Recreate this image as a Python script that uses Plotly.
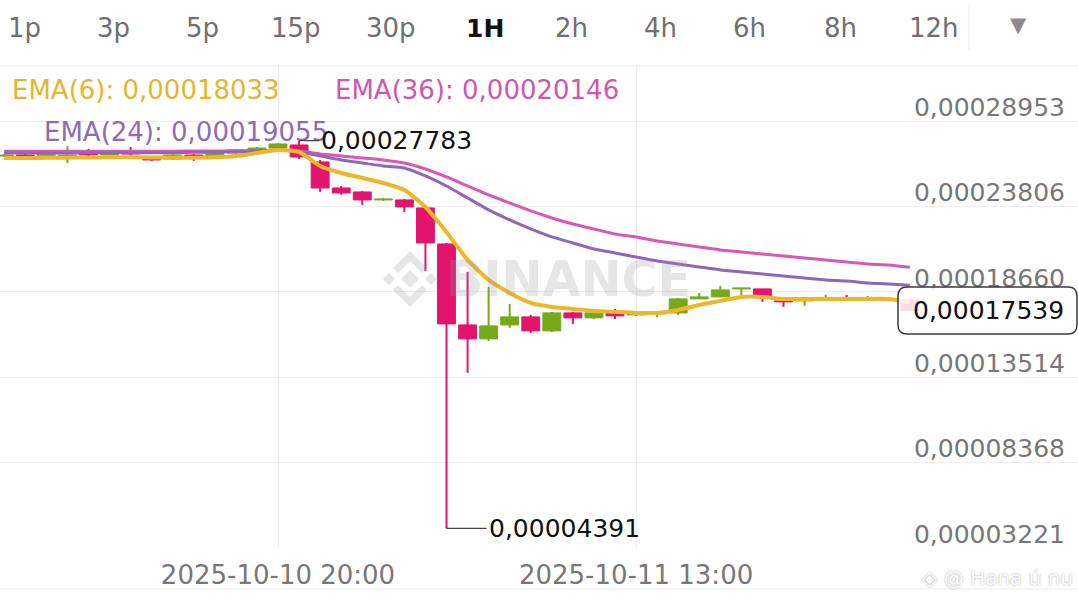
import pandas as pd
import plotly.graph_objects as go

W, H = 1078, 604
TOP, BOTTOM = 66, 548  # plot area edges (px)

# ---- data (1H candles, BINANCE style) ----
start = "2025-10-10 07:00"

opens = [0.00026860, 0.00026920, 0.00026880, 0.00026740, 0.00027100, 0.00026920, 0.00027160,
         0.00026800, 0.00026680, 0.00026920, 0.00026800, 0.00027040, 0.00027220, 0.00027340,
         0.00027525, 0.00026500, 0.00024930, 0.00024690, 0.00024208, 0.00024208, 0.00023725,
         0.00021554, 0.00016669, 0.00015825, 0.00016669, 0.00017152, 0.00016308, 0.00017393,
         0.00017092, 0.00017393, 0.00017273, 0.00017333, 0.00017393, 0.00018237, 0.00018358,
         0.00018840, 0.00018840, 0.00018117, 0.00018117, 0.00018177, 0.00018237, 0.00018177,
         0.00018237, 0.00018177]
highs = [0.00026980, 0.00027000, 0.00027010, 0.00027460, 0.00027280, 0.00027060, 0.00027400,
         0.00026860, 0.00026980, 0.00026980, 0.00027100, 0.00027280, 0.00027400, 0.00027645,
         0.00027783, 0.00026620, 0.00025050, 0.00024750, 0.00024328, 0.00024268, 0.00023846,
         0.00021615, 0.00019866, 0.00018961, 0.00017936, 0.00017273, 0.00017453, 0.00017453,
         0.00017453, 0.00017634, 0.00017514, 0.00017453, 0.00018298, 0.00018599, 0.00019021,
         0.00018901, 0.00018840, 0.00018117, 0.00018237, 0.00018479, 0.00018479, 0.00018418,
         0.00018358, 0.00018237]
lows = [0.00026800, 0.00026850, 0.00026830, 0.00026440, 0.00026860, 0.00026880, 0.00026920,
        0.00026560, 0.00026620, 0.00026560, 0.00026760, 0.00027000, 0.00027160, 0.00027280,
        0.00026680, 0.00024690, 0.00024510, 0.00023906, 0.00024147, 0.00023484, 0.00019926,
        0.00004391, 0.00013775, 0.00015704, 0.00016488, 0.00016187, 0.00016247, 0.00016730,
        0.00017031, 0.00017031, 0.00017212, 0.00017152, 0.00017273, 0.00018237, 0.00018358,
        0.00018358, 0.00018057, 0.00017755, 0.00017815, 0.00018177, 0.00018117, 0.00018177,
        0.00018117, 0.00017500]
closes = [0.00026920, 0.00026880, 0.00026960, 0.00026920, 0.00026920, 0.00027000, 0.00026980,
          0.00026620, 0.00026920, 0.00026800, 0.00027040, 0.00027220, 0.00027340, 0.00027585,
          0.00026800, 0.00024930, 0.00024630, 0.00024208, 0.00024268, 0.00023786, 0.00021615,
          0.00016730, 0.00015825, 0.00016609, 0.00017152, 0.00016308, 0.00017393, 0.00017092,
          0.00017393, 0.00017212, 0.00017453, 0.00017393, 0.00018237, 0.00018358, 0.00018780,
          0.00018901, 0.00018358, 0.00018057, 0.00018177, 0.00018237, 0.00018177, 0.00018237,
          0.00018177, 0.00017539]

ema6 = [0.00026740, 0.00026740, 0.00026750, 0.00026760, 0.00026770, 0.00026780, 0.00026790,
        0.00026770, 0.00026760, 0.00026760, 0.00026780, 0.00026860, 0.00027040, 0.00027220,
        0.00027100, 0.00026258, 0.00025836, 0.00025534, 0.00025233, 0.00024811, 0.00023785,
        0.00022278, 0.00020589, 0.00019383, 0.00018599, 0.00017996, 0.00017755, 0.00017634,
        0.00017514, 0.00017453, 0.00017393, 0.00017393, 0.00017574, 0.00017875, 0.00018117,
        0.00018358, 0.00018358, 0.00018237, 0.00018237, 0.00018237, 0.00018237, 0.00018237,
        0.00018237, 0.00018033]
ema24 = [0.00027040, 0.00027040, 0.00027040, 0.00027045, 0.00027050, 0.00027050, 0.00027060,
         0.00027060, 0.00027060, 0.00027080, 0.00027100, 0.00027110, 0.00027160, 0.00027220,
         0.00027100, 0.00026861, 0.00026620, 0.00026439, 0.00026258, 0.00026137, 0.00025655,
         0.00025052, 0.00024328, 0.00023605, 0.00023001, 0.00022459, 0.00021976, 0.00021614,
         0.00021253, 0.00021011, 0.00020770, 0.00020529, 0.00020348, 0.00020167, 0.00019986,
         0.00019865, 0.00019745, 0.00019624, 0.00019504, 0.00019383, 0.00019323, 0.00019202,
         0.00019142, 0.00019055]
ema36 = [0.00027140, 0.00027140, 0.00027140, 0.00027140, 0.00027150, 0.00027150, 0.00027150,
         0.00027150, 0.00027150, 0.00027160, 0.00027160, 0.00027170, 0.00027180, 0.00027200,
         0.00027160, 0.00026982, 0.00026861, 0.00026741, 0.00026620, 0.00026439, 0.00026077,
         0.00025595, 0.00025052, 0.00024509, 0.00024027, 0.00023544, 0.00023122, 0.00022760,
         0.00022459, 0.00022157, 0.00021976, 0.00021735, 0.00021554, 0.00021373, 0.00021192,
         0.00021072, 0.00020951, 0.00020830, 0.00020710, 0.00020589, 0.00020469, 0.00020348,
         0.00020288, 0.00020146]

x_ticks = ["2025-10-10 20:00", "2025-10-11 13:00"]
y_ticks = [0.00003221, 0.00008368, 0.00013514, 0.00018660, 0.00023806, 0.00028953]
y_range = [0.00003210, 0.00032289]
x_range = ["2025-10-10 06:48", "2025-10-12 09:59"]

tabs = ["1p", "3p", "5p", "15p", "30p", "1H", "2h", "4h", "6h", "8h", "12h"]
active_tab = "1H"

times = pd.date_range(start, periods=len(opens), freq="h")

GREEN = "#76a91a"
PINK = "#e3146e"
C_EMA6 = "#f0b62a"
C_EMA24 = "#8e67bc"
C_EMA36 = "#db57b7"
FONT = "DejaVu Sans"


def fmt(v):
    return f"{v:.8f}".replace(".", ",")


def pp(x, y):
    # pixel -> paper coords
    return x / W, (BOTTOM - y) / (BOTTOM - TOP)


def path_px(cmds):
    out = []
    for c in cmds:
        if isinstance(c, str):
            out.append(c)
        else:
            px_, py_ = pp(*c)
            out.append(f"{px_:.5f},{py_:.5f}")
    return " ".join(out)


fig = go.Figure()

# candle bodies
colors = [GREEN if c >= o else PINK for o, c in zip(opens, closes)]
fig.add_trace(go.Bar(
    x=times, base=[min(o, c) for o, c in zip(opens, closes)],
    y=[abs(c - o) for o, c in zip(opens, closes)],
    width=0.85 * 3600 * 1000,
    marker=dict(color=colors, line=dict(color=colors, width=1)),
    hoverinfo="skip",
))

# wicks
for col in (GREEN, PINK):
    wx, wy = [], []
    for t, h, l, c in zip(times, highs, lows, colors):
        if c == col:
            wx += [t, t, None]
            wy += [l, h, None]
    fig.add_trace(go.Scatter(x=wx, y=wy, mode="lines", line=dict(color=col, width=2),
                             hoverinfo="skip"))

# EMA lines
for vals, col, w in ((ema36, C_EMA36, 3), (ema24, C_EMA24, 3), (ema6, C_EMA6, 4)):
    fig.add_trace(go.Scatter(x=times, y=vals, mode="lines",
                             line=dict(color=col, width=w, shape="spline", smoothing=0.5)))

ann = []
# timeframe tabs
tab_x = [25, 113, 202, 296, 391, 485, 571, 660, 749, 840, 934]
for t, x in zip(tabs, tab_x):
    px_, py_ = pp(x, 28)
    active = t == active_tab
    ann.append(dict(xref="paper", yref="paper", x=px_, y=py_, text=f"<b>{t}</b>" if active else t,
                    showarrow=False, xanchor="center", yanchor="middle",
                    font=dict(family=FONT, size=25 if active else 26,
                              color="#111111" if active else "#707070")))
px_, py_ = pp(1029, 25)
ann.append(dict(xref="paper", yref="paper", x=px_, y=py_, text="▼", showarrow=False,
                yanchor="middle", font=dict(family=FONT, size=21, color="#8c8c8c")))

# EMA legend
for label, vals, col, x, y in (("EMA(6)", ema6, "#e5b52f", 10, 90),
                               ("EMA(36)", ema36, "#d455b0", 333, 90),
                               ("EMA(24)", ema24, "#8c6cb6", 42, 132)):
    px_, py_ = pp(x, y)
    ann.append(dict(xref="paper", yref="paper", x=px_, y=py_, text=f"{label}: {fmt(vals[-1])}",
                    showarrow=False, xanchor="left", yanchor="middle",
                    font=dict(family=FONT, size=26, color=col)))

# high / low markers
hi = highs.index(max(highs))
lo = lows.index(min(lows))
for i, v, ax in ((hi, highs[hi], 20), (lo, lows[lo], 40)):
    ann.append(dict(x=times[i], y=v, text=fmt(v), showarrow=True, arrowhead=0, arrowwidth=1.3,
                    arrowcolor="#444444", ax=ax, ay=0, xanchor="left", yanchor="middle",
                    standoff=0, font=dict(family=FONT, size=25, color="#111111")))

# current price label
ann.append(dict(xref="paper", x=1066 / W, y=closes[-1], text=fmt(closes[-1]), showarrow=False,
                xanchor="right", yanchor="middle", font=dict(family=FONT, size=25, color="#111111")))

# watermark
px_, py_ = pp(568, 279)
ann.append(dict(xref="paper", yref="paper", x=px_, y=py_, text="<b>BINANCE</b>", showarrow=False,
                font=dict(family=FONT, size=49, color="rgba(150,150,150,0.24)")))
px_, py_ = pp(1075, 578)
ann.append(dict(xref="paper", yref="paper", x=px_, y=py_, text="◈ @ Hana ú nu", showarrow=False,
                xanchor="right", yanchor="middle",
                font=dict(family=FONT, size=20, color="#ffffff", shadow="0px 0px 2px #9a9a9a")))

shapes = []
# separators
for y in (TOP, 589):
    _, py_ = pp(0, y)
    shapes.append(dict(type="line", xref="paper", yref="paper", x0=0, x1=1, y0=py_, y1=py_,
                       line=dict(color="#ececec", width=1)))
x0, y0 = pp(969, 5)
_, y1 = pp(969, 50)
shapes.append(dict(type="line", xref="paper", yref="paper", x0=x0, x1=x0, y0=y0, y1=y1,
                   line=dict(color="#ececec", width=1)))

# price box with rounded corners
bx0, by0, bx1, by1, r = 898, 287, 1077, 334, 9
shapes.append(dict(type="path", xref="paper", yref="paper", layer="above",
                   path=path_px(["M", (bx0 + r, by0), "L", (bx1 - r, by0), "Q", (bx1, by0), (bx1, by0 + r),
                                 "L", (bx1, by1 - r), "Q", (bx1, by1), (bx1 - r, by1),
                                 "L", (bx0 + r, by1), "Q", (bx0, by1), (bx0, by1 - r),
                                 "L", (bx0, by0 + r), "Q", (bx0, by0), (bx0 + r, by0), "Z"]),
                   fillcolor="rgba(255,255,255,0.85)", line=dict(color="#3a3a3a", width=1.5)))

# BINANCE logo watermark
cx, cy = 410, 279
logo = "rgba(150,150,150,0.24)"
for dx, s in ((0, 9), (-21, 6), (21, 6)):
    shapes.append(dict(type="path", xref="paper", yref="paper", fillcolor=logo, line=dict(width=0),
                       path=path_px(["M", (cx + dx, cy - s), "L", (cx + dx + s, cy), "L", (cx + dx, cy + s),
                                     "L", (cx + dx - s, cy), "Z"])))
for sgn in (-1, 1):
    pts = [(0, 28), (17, 11), (12, 6), (0, 18), (-12, 6), (-17, 11)]
    cmds = []
    for k, (dx, dy) in enumerate(pts):
        cmds += ["M" if k == 0 else "L", (cx + dx, cy + sgn * dy)]
    cmds.append("Z")
    shapes.append(dict(type="path", xref="paper", yref="paper", fillcolor=logo, line=dict(width=0),
                       path=path_px(cmds)))

fig.update_layout(
    width=W, height=H,
    margin=dict(l=0, r=0, t=TOP, b=H - BOTTOM),
    paper_bgcolor="white", plot_bgcolor="white",
    showlegend=False, separators=",.",
    font=dict(family=FONT, color="#777777"),
    annotations=ann, shapes=shapes,
    xaxis=dict(type="date", range=x_range, tickvals=x_ticks, tickformat="%Y-%m-%d %H:%M",
               showgrid=True, gridcolor="#eeeeee", gridwidth=1, zeroline=False, showline=False,
               ticks="", tickfont=dict(family=FONT, size=26, color="#777777"),
               ticklabelstandoff=9, fixedrange=True),
    yaxis=dict(side="right", range=y_range, tickvals=y_ticks, tickformat=".8f",
               ticklabelposition="inside", ticklabelshift=-14, ticklabelstandoff=10,
               ticklabeloverflow="allow",
               showgrid=True, gridcolor="#eeeeee", gridwidth=1, zeroline=False, showline=False,
               ticks="", tickfont=dict(family=FONT, size=25, color="#777777"), fixedrange=True),
)

# page has a default 8px body margin; drop it so the chart sits at the window's corner
fig.write_html("out.html", config={"displayModeBar": False},
               post_script="document.body.style.margin='0';")
